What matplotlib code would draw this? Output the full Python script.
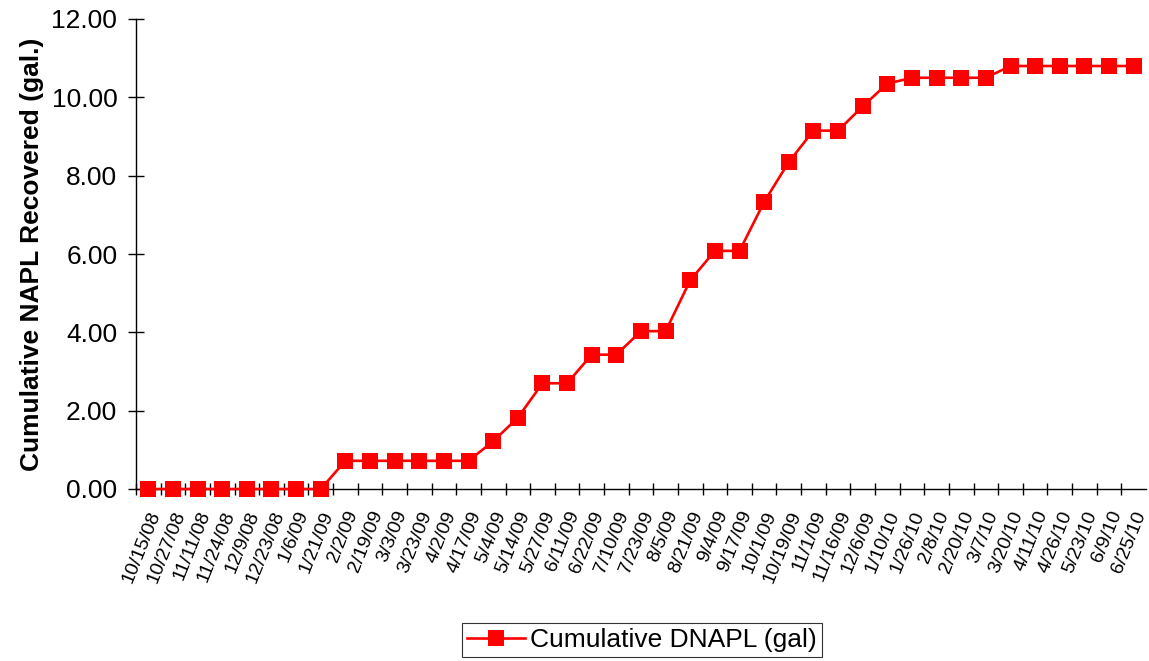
import numpy as np
import matplotlib
matplotlib.use("Agg")
import matplotlib.pyplot as plt

plt.rcParams['font.family'] = ['Liberation Sans', 'DejaVu Sans']

# sample dates (category labels)
dates = ['10/15/08', '10/27/08', '11/11/08', '11/24/08', '12/9/08', '12/23/08',
         '1/6/09', '1/21/09', '2/2/09', '2/19/09', '3/3/09', '3/23/09', '4/2/09',
         '4/17/09', '5/4/09', '5/14/09', '5/27/09', '6/11/09', '6/22/09',
         '7/10/09', '7/23/09', '8/5/09', '8/21/09', '9/4/09', '9/17/09',
         '10/1/09', '10/19/09', '11/1/09', '11/16/09', '12/6/09', '1/10/10',
         '1/26/10', '2/8/10', '2/20/10', '3/7/10', '3/20/10', '4/11/10',
         '4/26/10', '5/23/10', '6/9/10', '6/25/10']

# cumulative DNAPL recovered (gal)
dnapl = [0.00, 0.00, 0.00, 0.00, 0.00, 0.00, 0.00, 0.00,
         0.72, 0.72, 0.72, 0.72, 0.72, 0.72,
         1.22, 1.82, 2.70, 2.70, 3.43, 3.43, 4.03, 4.03,
         5.33, 6.08, 6.08, 7.33, 8.35, 9.15, 9.15, 9.77,
         10.35, 10.50, 10.50, 10.50, 10.50,
         10.80, 10.80, 10.80, 10.80, 10.80, 10.80]

x = np.arange(len(dates))

fig = plt.figure(figsize=(11.49, 6.61), dpi=100)
ax = fig.add_axes([136/1149, 1 - 489/661, 1010/1149, 470/661])

ax.plot(x, dnapl, color='#ff0000', lw=1.9, marker='s', markersize=11,
        markeredgewidth=0, label='Cumulative DNAPL (gal)', clip_on=False, zorder=3)

ax.set_xlim(-0.5, len(dates) - 0.5)
ax.set_ylim(0, 12)

# y axis
yt = np.arange(0, 12.01, 2)
ax.set_yticks(yt)
ax.set_yticklabels(['%.2f' % v for v in yt], fontsize=19)
ax.set_ylabel('Cumulative NAPL Recovered (gal.)', fontsize=19, fontweight='bold', labelpad=5)

# x axis: ticks between categories, labels at the points
ax.set_xticks(x - 0.5, minor=False)
ax.set_xticklabels([])
ax.set_xticks(x, minor=True)
ax.set_xticklabels(dates, minor=True, rotation=68, ha='right', va='top',
                   rotation_mode='anchor', fontsize=14)
ax.tick_params(axis='x', which='minor', length=0, pad=14)
ax.tick_params(axis='x', which='major', direction='inout', length=9, width=1)
ax.tick_params(axis='y', direction='inout', length=11, width=1, pad=8)

for s in ['top', 'right']:
    ax.spines[s].set_visible(False)
for s in ['left', 'bottom']:
    ax.spines[s].set_linewidth(1)

leg = fig.legend(loc='center', bbox_to_anchor=(642/1149, 1 - 640/661), fontsize=19,
                 frameon=True, fancybox=False, edgecolor='black', handlelength=2.2,
                 borderpad=0.2, handletextpad=0.2, borderaxespad=0)
leg.get_frame().set_linewidth(0.8)

fig.savefig('out.png', dpi=100)
